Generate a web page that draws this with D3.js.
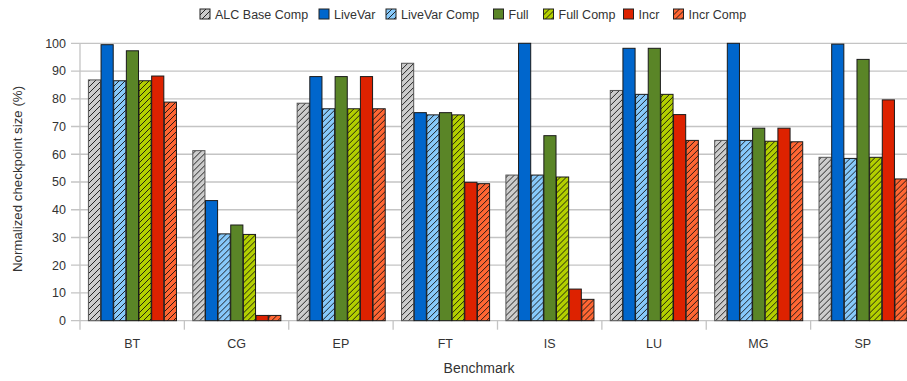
<!DOCTYPE html>
<html>
<head>
<meta charset="utf-8">
<script src="https://cdn.jsdelivr.net/npm/d3@7/dist/d3.min.js"></script>
<style>
  html, body { margin: 0; padding: 0; background: #fff; }
  svg { display: block; font-family: "Liberation Sans", Arial, sans-serif; }
</style>
</head>
<body>
<svg id="chart" width="907" height="381"></svg>
<script>
// Benchmarks on the x axis
const categories = ["BT", "CG", "EP", "FT", "IS", "LU", "MG", "SP"];

// Series names (legend order)
const seriesNames = ["ALC Base Comp", "LiveVar", "LiveVar Comp", "Full", "Full Comp", "Incr", "Incr Comp"];

// Normalized checkpoint size (%) per series, one value per benchmark
const alcBaseComp = [86.8, 61.3, 78.4, 92.8, 52.5, 83.0, 65.0, 58.9];
const liveVar     = [99.5, 43.3, 88.0, 75.0, 100.0, 98.2, 100.0, 99.7];
const liveVarComp = [86.5, 31.3, 76.4, 74.2, 52.5, 81.6, 65.0, 58.5];
const full        = [97.3, 34.5, 88.0, 75.0, 66.7, 98.2, 69.4, 94.2];
const fullComp    = [86.5, 31.1, 76.4, 74.2, 51.8, 81.6, 64.7, 58.9];
const incr        = [88.2, 1.9, 88.0, 49.9, 11.4, 74.3, 69.4, 79.6];
const incrComp    = [78.8, 1.9, 76.4, 49.4, 7.7, 65.0, 64.5, 51.1];

const yTicks = [0, 10, 20, 30, 40, 50, 60, 70, 80, 90, 100];

const seriesValues = [alcBaseComp, liveVar, liveVarComp, full, fullComp, incr, incrComp];
const seriesColors = ["#cccccc", "#0066cc", "#87c9fa", "#5a8527", "#b3cf00", "#dd2200", "#ff6633"];
const seriesHatched = [true, false, true, false, true, false, true];
const seriesStroke = ["#555555", "#1a1a1a", "#1a1a1a", "#1a1a1a", "#1a1a1a", "#1a1a1a", "#1a1a1a"];

const svg = d3.select("#chart");
const W = 907, H = 381;
const plotLeft = 80, plotRight = 915, plotTop = 43.3, plotBottom = 320.7;

const x0 = d3.scaleBand().domain(categories).range([plotLeft, plotRight]).padding(0);
const x1 = d3.scaleBand().domain(seriesNames).range([0, x0.bandwidth()]).paddingInner(0).paddingOuter(0.625);
const y = d3.scaleLinear().domain([0, 100]).range([plotBottom, plotTop]);

// Hatch patterns: diagonal strokes over the series colour
const defs = svg.append("defs");
seriesNames.forEach((name, i) => {
  const p = defs.append("pattern")
    .attr("id", "hatch" + i)
    .attr("patternUnits", "userSpaceOnUse")
    .attr("width", 6).attr("height", 6);
  p.append("rect").attr("width", 6).attr("height", 6).attr("fill", seriesColors[i]);
  p.append("path")
    .attr("d", "M-1,1 l2,-2 M0,6 l6,-6 M5,7 l2,-2")
    .attr("stroke", "#111").attr("stroke-width", 0.9);
});
const fillFor = i => seriesHatched[i] ? `url(#hatch${i})` : seriesColors[i];

// Horizontal grid lines with tick stubs left of the axis
const grid = svg.append("g");
grid.selectAll("line").data(yTicks).join("line")
  .attr("x1", plotLeft - 9).attr("x2", W)
  .attr("y1", d => y(d)).attr("y2", d => y(d))
  .attr("stroke", "#c4c4c4").attr("stroke-width", 1.3);

// Y axis labels
svg.append("g").selectAll("text").data(yTicks).join("text")
  .attr("x", plotLeft - 14).attr("y", d => y(d))
  .attr("dy", "0.35em").attr("text-anchor", "end")
  .attr("font-size", 12.5).attr("fill", "#333")
  .text(d => d);

// Vertical axis line and category separator ticks
svg.append("line")
  .attr("x1", plotLeft).attr("x2", plotLeft)
  .attr("y1", plotTop).attr("y2", plotBottom + 9)
  .attr("stroke", "#c4c4c4").attr("stroke-width", 1.3);
svg.append("g").selectAll("line").data(categories.slice(1)).join("line")
  .attr("x1", d => x0(d)).attr("x2", d => x0(d))
  .attr("y1", plotBottom).attr("y2", plotBottom + 9)
  .attr("stroke", "#c4c4c4").attr("stroke-width", 1.3);

// Bars
const groups = svg.append("g").selectAll("g").data(categories).join("g")
  .attr("transform", d => `translate(${x0(d)},0)`);
groups.selectAll("rect")
  .data((c, ci) => seriesNames.map((s, si) => ({ s, si, v: seriesValues[si][ci] })))
  .join("rect")
  .attr("x", d => x1(d.s) + 0.5)
  .attr("width", x1.bandwidth() - 0.5)
  .attr("y", d => y(d.v))
  .attr("height", d => y(0) - y(d.v))
  .attr("fill", d => fillFor(d.si))
  .attr("stroke", d => seriesStroke[d.si])
  .attr("stroke-width", 1);

// Category labels
svg.append("g").selectAll("text").data(categories).join("text")
  .attr("x", d => x0(d) + x0.bandwidth() / 2)
  .attr("y", 347.5)
  .attr("text-anchor", "middle")
  .attr("font-size", 12.5).attr("fill", "#333")
  .text(d => d);

// Axis titles
svg.append("text")
  .attr("x", 479).attr("y", 372.5)
  .attr("text-anchor", "middle")
  .attr("font-size", 14).attr("fill", "#333")
  .text("Benchmark");
svg.append("text")
  .attr("transform", `translate(22,179) rotate(-90)`)
  .attr("text-anchor", "middle")
  .attr("font-size", 13.3).attr("fill", "#333")
  .text("Normalized checkpoint size (%)");

// Legend
const legendX = [200, 319, 386, 493.5, 543.5, 623.5, 673.5];
const legend = svg.append("g").selectAll("g").data(seriesNames).join("g")
  .attr("transform", (d, i) => `translate(${legendX[i]},9)`);
legend.append("rect")
  .attr("width", 10).attr("height", 10)
  .attr("fill", (d, i) => fillFor(i))
  .attr("stroke", "#222").attr("stroke-width", 1);
legend.append("text")
  .attr("x", 15).attr("y", 5)
  .attr("dy", "0.36em")
  .attr("font-size", 12.5).attr("fill", "#333")
  .text(d => d);
</script>
</body>
</html>
